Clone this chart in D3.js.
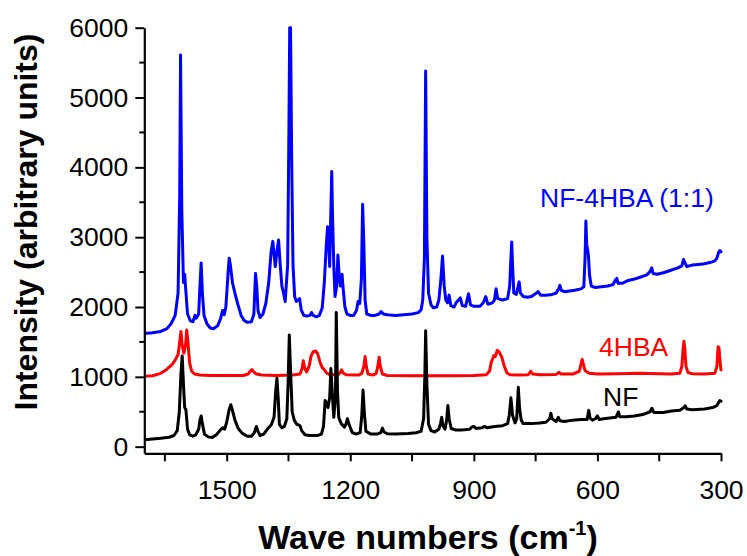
<!DOCTYPE html>
<html>
<head>
<meta charset="utf-8">
<script src="https://cdn.jsdelivr.net/npm/d3@7"></script>
<style>
  html, body { margin: 0; padding: 0; background: #fff; }
  svg { display: block; }
  text { font-family: Arial, "Liberation Sans", Helvetica, sans-serif; }
</style>
</head>
<body>
<div id="chart"></div>
<script>
// ---------- DATA ----------
const xTickValues = [1500, 1200, 900, 600, 300];
const xMinorTicks = [1650, 1350, 1050, 750, 450];
const yTickValues = [0, 1000, 2000, 3000, 4000, 5000, 6000];
const yMinorTicks = [500, 1500, 2500, 3500, 4500, 5500];
const seriesNames = ["NF-4HBA (1:1)", "4HBA", "NF"];
const seriesColors = ["#0000ff", "#ff0000", "#000000"];

// [wave number (cm-1), intensity]
const blueSpectrum = [
  [1700,1620],[1680,1630],[1660,1650],[1645,1690],[1635,1760],[1625,1880],[1618,2200],[1614,3600],
  [1612,5610],[1609,3400],[1605,2350],[1602,2470],[1600,2300],[1595,1900],[1588,1800],[1582,1790],
  [1577,1880],[1574,1840],[1568,1900],[1565,2300],[1562,2630],[1559,2200],[1555,1880],[1548,1760],
  [1540,1700],[1532,1690],[1522,1730],[1515,1830],[1510,1950],[1506,1890],[1502,2000],[1497,2450],
  [1494,2700],[1491,2600],[1486,2350],[1480,2200],[1472,2020],[1465,1880],[1458,1810],[1450,1780],
  [1440,1790],[1434,1900],[1430,2480],[1427,2300],[1424,1950],[1419,1850],[1412,1900],[1405,2050],
  [1398,2350],[1392,2800],[1388,2940],[1385,2750],[1382,2580],[1378,2800],[1374,2960],[1370,2600],
  [1366,2300],[1362,2200],[1358,2080],[1352,2600],[1349,4500],[1347,6000],[1345,6000],[1342,4000],
  [1339,2600],[1335,2150],[1331,2080],[1327,2100],[1323,2120],[1319,1960],[1313,1880],[1305,1870],
  [1298,1880],[1294,1920],[1290,1880],[1282,1860],[1275,1880],[1268,1990],[1263,2350],[1258,2900],
  [1255,3150],[1252,2900],[1250,2580],[1247,3400],[1245,3940],[1243,3300],[1240,2600],[1237,2150],
  [1233,2300],[1230,2745],[1227,2450],[1224,2300],[1220,2470],[1217,2250],[1213,2000],[1208,1900],
  [1200,1880],[1192,1880],[1185,1950],[1181,2080],[1177,2050],[1173,2400],[1170,3470],[1167,2900],
  [1164,2100],[1160,1900],[1150,1880],[1140,1880],[1130,1900],[1125,1935],[1120,1900],[1110,1890],
  [1090,1880],[1070,1890],[1050,1900],[1035,1920],[1028,1960],[1024,2100],[1020,2700],[1017,5380],
  [1014,3000],[1010,2200],[1004,2030],[998,1990],[990,2000],[985,2100],[980,2400],[976,2730],
  [972,2300],[968,2100],[964,2060],[960,2170],[956,2020],[948,2000],[943,2060],[933,2130],
  [928,2020],[920,2010],[913,2190],[908,2030],[900,2010],[885,2010],[877,2060],[871,2150],
  [866,2040],[855,2060],[850,2100],[846,2260],[842,2120],[830,2100],[818,2120],[813,2300],
  [810,2700],[808,2930],[806,2600],[803,2200],[797,2180],[793,2280],[790,2360],[787,2200],
  [780,2150],[770,2140],[760,2150],[748,2200],[744,2220],[738,2170],[725,2170],[710,2180],
  [700,2200],[694,2260],[691,2310],[688,2240],[680,2220],[668,2230],[655,2240],[640,2260],
  [633,2290],[630,2700],[628,3230],[626,2900],[622,2750],[619,2450],[615,2300],[605,2280],
  [590,2290],[575,2300],[562,2320],[556,2390],[553,2410],[550,2340],[540,2340],[525,2380],
  [510,2400],[495,2430],[480,2460],[472,2510],[468,2560],[465,2480],[455,2470],[440,2490],
  [420,2530],[405,2560],[395,2590],[391,2680],[388,2640],[383,2580],[370,2600],[355,2610],
  [340,2620],[325,2640],[315,2660],[310,2700],[306,2780],[303,2810],[300,2790]
];

const redSpectrum = [
  [1700,1010],[1680,1015],[1660,1050],[1645,1110],[1632,1180],[1625,1240],[1618,1320],[1614,1500],
  [1611,1650],[1608,1450],[1604,1340],[1600,1450],[1597,1670],[1594,1500],[1590,1200],[1585,1080],
  [1578,1040],[1565,1025],[1540,1020],[1500,1020],[1460,1020],[1448,1040],[1443,1080],[1439,1105],
  [1435,1075],[1428,1040],[1415,1025],[1380,1020],[1340,1025],[1322,1040],[1317,1120],[1314,1230],
  [1311,1130],[1306,1070],[1300,1150],[1295,1300],[1290,1360],[1284,1370],[1279,1330],[1274,1220],
  [1268,1130],[1264,1110],[1258,1060],[1250,1030],[1230,1030],[1224,1060],[1221,1100],[1218,1060],
  [1210,1030],[1180,1025],[1172,1050],[1167,1150],[1164,1290],[1161,1150],[1157,1040],[1145,1025],
  [1137,1050],[1133,1150],[1130,1280],[1127,1150],[1122,1040],[1110,1020],[1050,1015],[1000,1015],
  [950,1015],[900,1020],[870,1030],[862,1080],[858,1200],[852,1300],[848,1290],[843,1380],
  [838,1350],[832,1280],[826,1150],[820,1060],[812,1030],[790,1025],[768,1030],[762,1080],
  [757,1040],[740,1030],[700,1035],[693,1065],[689,1040],[660,1040],[644,1080],[640,1180],
  [637,1250],[634,1180],[630,1090],[625,1070],[620,1050],[600,1040],[550,1045],[500,1050],
  [450,1045],[420,1040],[400,1050],[395,1150],[392,1400],[390,1510],[388,1400],[385,1150],
  [380,1060],[370,1045],[340,1040],[315,1050],[310,1150],[307,1430],[305,1420],[302,1200],[300,1100]
];

const blackSpectrum = [
  [1700,100],[1680,110],[1660,120],[1640,135],[1628,160],[1620,230],[1615,500],[1611,1050],
  [1608,1300],[1605,900],[1602,560],[1599,530],[1595,250],[1590,170],[1582,150],[1575,170],
  [1568,250],[1565,380],[1562,440],[1559,330],[1554,180],[1545,140],[1535,130],[1525,170],
  [1515,240],[1510,270],[1505,250],[1500,350],[1494,530],[1490,600],[1486,520],[1480,380],
  [1472,260],[1462,190],[1450,150],[1440,150],[1433,200],[1428,290],[1424,220],[1419,160],
  [1410,180],[1400,260],[1392,310],[1385,420],[1381,800],[1378,980],[1375,700],[1372,320],
  [1366,270],[1360,290],[1354,400],[1351,900],[1348,1600],[1345,1100],[1341,500],[1336,380],
  [1330,320],[1325,310],[1322,300],[1318,230],[1310,170],[1300,160],[1280,160],[1270,180],
  [1265,290],[1261,660],[1257,620],[1254,560],[1250,700],[1247,1120],[1244,800],[1240,420],
  [1236,700],[1234,1920],[1231,800],[1228,420],[1222,330],[1214,280],[1210,330],[1207,400],
  [1203,320],[1195,200],[1185,180],[1176,200],[1172,450],[1169,810],[1166,500],[1162,220],
  [1150,180],[1135,180],[1126,200],[1122,265],[1118,210],[1110,185],[1090,180],[1060,190],
  [1040,200],[1028,220],[1022,400],[1019,1000],[1017,1660],[1014,900],[1010,320],[1004,230],
  [995,210],[985,250],[981,330],[978,420],[975,300],[970,250],[966,380],[963,590],
  [960,400],[955,260],[945,240],[930,240],[910,250],[905,280],[900,290],[895,260],
  [880,270],[874,290],[868,270],[850,290],[830,300],[818,330],[814,450],[810,700],
  [806,450],[800,340],[796,400],[792,850],[789,550],[785,380],[780,330],[760,330],
  [740,340],[725,350],[716,400],[713,480],[710,400],[700,360],[695,420],[691,370],
  [680,360],[660,380],[640,390],[625,390],[621,520],[618,410],[612,380],[605,400],
  [600,440],[596,390],[585,400],[570,410],[555,420],[549,500],[546,430],[530,430],
  [510,440],[490,460],[472,500],[468,550],[463,490],[440,490],[420,510],[400,520],
  [390,560],[387,585],[383,540],[370,530],[340,540],[320,560],[310,590],[303,660],[300,650]
];

// ---------- CHART ----------
const W = 747, H = 556;
const svg = d3.select("#chart").append("svg").attr("width", W).attr("height", H);

const x = d3.scaleLinear().domain([1700, 300]).range([144.3, 721]);
const y = d3.scaleLinear().domain([-95, 6000]).range([453.3, 27.7]);

svg.append("defs").append("clipPath").attr("id", "plotclip")
  .append("rect").attr("x", 144.3).attr("y", 26).attr("width", 721 - 144.3 + 2).attr("height", 453.3 - 26);

const line = d3.line().x(d => x(d[0])).y(d => y(d[1])).curve(d3.curveLinear);

const plot = svg.append("g").attr("clip-path", "url(#plotclip)");
[blueSpectrum, redSpectrum, blackSpectrum].forEach((s, i) => {
  plot.append("path").datum(s)
    .attr("d", line)
    .attr("fill", "none")
    .attr("stroke", seriesColors[i])
    .attr("stroke-width", 3)
    .attr("stroke-linejoin", "round")
    .attr("stroke-linecap", "round");
});

// axes
const fontSize = 26.5;
const fmt = d3.format("d");
const xAxis = d3.axisBottom(x).tickValues(xTickValues).tickFormat(fmt).tickSize(8).tickPadding(19).tickSizeOuter(0);
const gx = svg.append("g").attr("transform", "translate(0,453.3)").call(xAxis);
gx.append("g").selectAll("line").data(xMinorTicks).join("line")
  .attr("x1", d => x(d)).attr("x2", d => x(d)).attr("y1", 0).attr("y2", 8)
  .attr("stroke", "#000").attr("stroke-width", 2);

const yAxis = d3.axisLeft(y).tickValues(yTickValues).tickFormat(fmt).tickSize(9).tickPadding(7).tickSizeOuter(0);
const gy = svg.append("g").attr("transform", "translate(144.3,0)").call(yAxis);
gy.append("g").selectAll("line").data(yMinorTicks).join("line")
  .attr("x1", 0).attr("x2", -5).attr("y1", d => y(d)).attr("y2", d => y(d))
  .attr("stroke", "#000").attr("stroke-width", 2);

[gx, gy].forEach(g => {
  g.select(".domain").attr("stroke", "#000").attr("stroke-width", 2.2);
  g.selectAll(".tick line").attr("stroke", "#000").attr("stroke-width", 2);
  g.selectAll(".tick text").attr("font-size", fontSize).attr("fill", "#000")
    .attr("font-family", 'Arial, "Liberation Sans", Helvetica, sans-serif');
});

// axis titles
svg.append("text")
  .attr("transform", "translate(37,222) rotate(-90)")
  .attr("text-anchor", "middle")
  .attr("font-weight", "bold").attr("font-size", 32)
  .text("Intensity (arbitrary units)");

const xt = svg.append("text")
  .attr("x", 428).attr("y", 549)
  .attr("text-anchor", "middle")
  .attr("font-weight", "bold").attr("font-size", 34);
xt.append("tspan").text("Wave numbers (cm");
xt.append("tspan").attr("font-size", 20).attr("dy", -14).text("-1");
xt.append("tspan").attr("dy", 14).text(")");

// series labels
const labelPos = [[540, 207], [599, 356], [603, 406]];
seriesNames.forEach((n, i) => {
  svg.append("text")
    .attr("x", labelPos[i][0]).attr("y", labelPos[i][1])
    .attr("font-size", fontSize).attr("fill", seriesColors[i])
    .text(n);
});
</script>
</body>
</html>
